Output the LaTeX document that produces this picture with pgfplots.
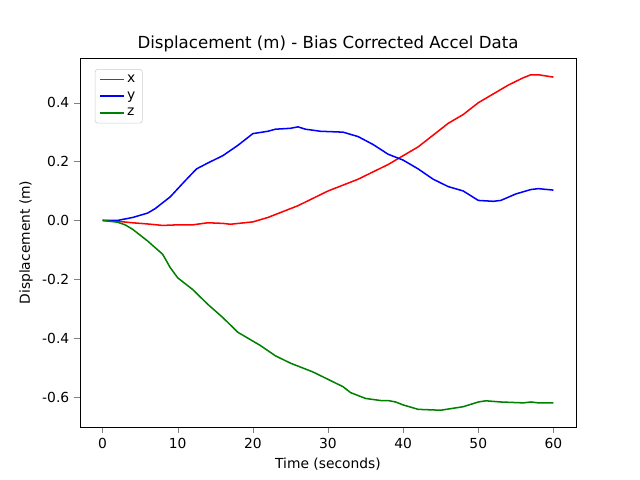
\documentclass[border=0pt]{standalone}
\usepackage{pgfplots}
\pgfplotsset{compat=1.18}
\usepackage{fontspec}
\setmainfont{DejaVu Sans}
\begin{document}
\begin{tikzpicture}
\path (-0.8in,-0.53in) rectangle (5.6in,4.27in);
\begin{axis}[at={(0,0)},anchor=south west,scale only axis,width=4.96in,height=3.69in,
xmin=-3,xmax=63,ymin=-0.702,ymax=0.552,
xtick={0,10,20,30,40,50,60},ytick={-0.6,-0.4,-0.2,0,0.2,0.4},
yticklabel style={/pgf/number format/fixed,/pgf/number format/fixed zerofill,/pgf/number format/precision=1},
/pgf/number format/assume math mode=true,
tick label style={font=\fontsize{10}{12}\selectfont},
label style={font=\fontsize{10}{12}\selectfont},
tick align=outside,tick pos=left,
title={Displacement (m) - Bias Corrected Accel Data},
title style={font=\fontsize{12}{14}\selectfont,yshift=-5pt},
xlabel={Time (seconds)},ylabel={Displacement (m)},
legend pos=north west,
legend style={font=\fontsize{10}{12}\selectfont,draw=black!20,rounded corners=2pt,row sep=1pt},
legend cell align=left]
\addplot[red,line width=1.1pt,no marks] coordinates {(0,0)(2,-0.003)(4,-0.008)(6,-0.012)(8,-0.017)(10,-0.015)(12,-0.015)(14,-0.008)(16,-0.01)(17,-0.013)(20,-0.005)(22,0.01)(24,0.03)(26,0.05)(28,0.075)(30,0.1)(32,0.12)(34,0.14)(36,0.165)(38,0.19)(40,0.22)(42,0.25)(44,0.29)(46,0.33)(48,0.36)(50,0.40)(52,0.43)(54,0.46)(56,0.485)(57,0.495)(58,0.495)(60,0.487)};
\addplot[blue,line width=1.1pt,no marks] coordinates {(0,0)(2,0)(4,0.01)(6,0.025)(7,0.04)(9,0.08)(11,0.135)(12.5,0.175)(14,0.195)(16,0.22)(18,0.255)(20,0.295)(22,0.303)(23,0.31)(25,0.313)(26,0.318)(27,0.31)(29,0.303)(32,0.3)(34,0.285)(36,0.258)(38,0.225)(40,0.205)(42,0.175)(44,0.14)(46,0.115)(48,0.1)(50,0.068)(52,0.065)(53,0.068)(55,0.09)(57,0.105)(58,0.108)(60,0.103)};
\addplot[green!50!black,line width=1.1pt,no marks] coordinates {(0,0)(2,-0.006)(3,-0.015)(4,-0.03)(6,-0.07)(8,-0.115)(9,-0.16)(10,-0.195)(12,-0.235)(14,-0.285)(16,-0.33)(18,-0.38)(20,-0.41)(21,-0.425)(23,-0.46)(25,-0.485)(27,-0.505)(28,-0.515)(30,-0.54)(32,-0.565)(33,-0.585)(35,-0.605)(37,-0.612)(38,-0.612)(39,-0.617)(40,-0.627)(42,-0.642)(45,-0.645)(48,-0.633)(50,-0.617)(51,-0.613)(53,-0.617)(56,-0.62)(57,-0.617)(58,-0.62)(60,-0.62)};
\legend{x,y,z}
\end{axis}
\end{tikzpicture}
\end{document}
